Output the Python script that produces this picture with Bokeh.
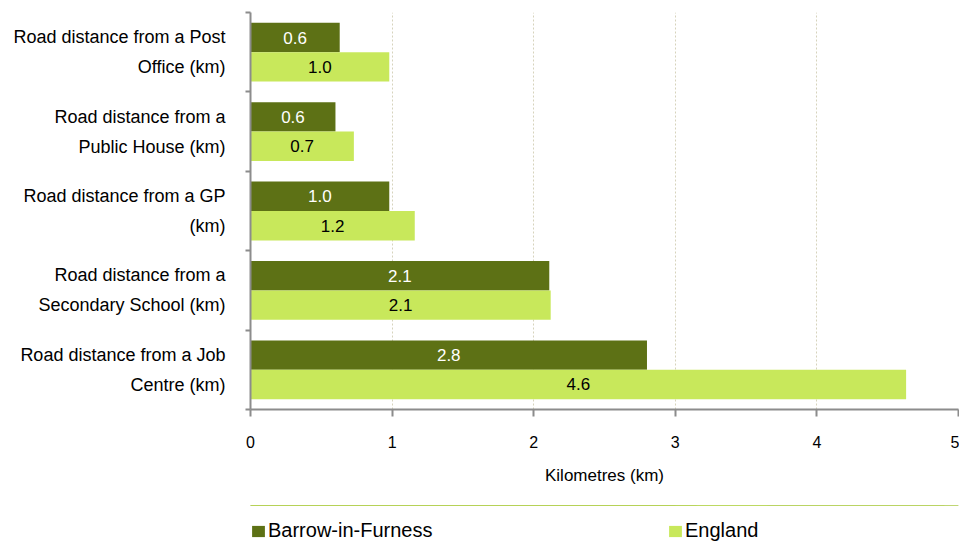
from bokeh.plotting import figure
from bokeh.layouts import column
from bokeh.models import (ColumnDataSource, Range1d, FixedTicker, Legend, LegendItem)
from bokeh.core.properties import value
from bokeh.embed import file_html
from bokeh.resources import INLINE

# ---- data ----
categories = [
    "Road distance from a Post\nOffice (km)",
    "Road distance from a\nPublic House (km)",
    "Road distance from a GP\n(km)",
    "Road distance from a\nSecondary School (km)",
    "Road distance from a Job\nCentre (km)",
]
barrow = [0.63, 0.60, 0.98, 2.11, 2.80]
england = [0.98, 0.73, 1.16, 2.12, 4.63]
series_names = ["Barrow-in-Furness", "England"]
x_ticks = [0, 1, 2, 3, 4, 5]
x_title = "Kilometres (km)"

DARK = "#5D7115"
LIGHT = "#C8E85B"
FONT = "Liberation Sans"
AXIS = "#8C8C8C"

n = len(categories)
bar_h = 0.37
off = bar_h / 2
centers = [n - i - 0.5 for i in range(n)]  # first category at the top

src = ColumnDataSource(dict(
    yc=centers,
    y_b=[c + off for c in centers],
    y_e=[c - off for c in centers],
    barrow=barrow,
    england=england,
    barrow_mid=[v / 2 for v in barrow],
    england_mid=[v / 2 for v in england],
    barrow_txt=[f"{v:.1f}" for v in barrow],
    england_txt=[f"{v:.1f}" for v in england],
))

p = figure(
    width=959, height=505,
    y_range=Range1d(0, n),
    x_range=Range1d(0, 5),
    output_backend="svg", toolbar_location=None,
    min_border_left=250, min_border_right=1, min_border_top=12, min_border_bottom=96,
)
p.outline_line_color = None
p.background_fill_color = "white"
p.border_fill_color = "white"

p.hbar(y="y_b", right="barrow", left=0, height=bar_h,
       source=src, fill_color=DARK, line_color=None)
p.hbar(y="y_e", right="england", left=0, height=bar_h,
       source=src, fill_color=LIGHT, line_color=None)

p.text(x="barrow_mid", y="y_b", text="barrow_txt", source=src,
       text_color="white", text_align="center", text_baseline="middle",
       text_font=value(FONT), text_font_size="17px")
p.text(x="england_mid", y="y_e", text="england_txt", source=src,
       text_color="black", text_align="center", text_baseline="middle",
       text_font=value(FONT), text_font_size="17px")

# grid
p.ygrid.visible = False
p.xgrid.grid_line_color = "#D6D3BC"
p.xgrid.grid_line_dash = "2 2"
p.xgrid.grid_line_width = 1
p.xgrid.ticker = FixedTicker(ticks=x_ticks)

# x axis
xa = p.xaxis[0]
xa.ticker = FixedTicker(ticks=x_ticks)
xa.axis_label = x_title
xa.axis_line_color = AXIS
xa.axis_line_width = 2
xa.major_tick_line_color = AXIS
xa.major_tick_line_width = 2
xa.major_tick_in = 0
xa.major_tick_out = 7
xa.minor_tick_line_color = None
xa.major_label_text_font = FONT
xa.major_label_text_font_size = "16px"
xa.major_label_text_color = "black"
xa.major_label_standoff = 19
xa.axis_label_text_font = FONT
xa.axis_label_text_font_size = "17px"
xa.axis_label_text_font_style = "normal"
xa.axis_label_text_color = "black"
xa.axis_label_standoff = 15

# y axis: category labels at centres, boundary ticks as minor ticks
ya = p.yaxis[0]
ya.ticker = FixedTicker(ticks=centers, minor_ticks=list(range(n + 1)))
ya.major_label_overrides = {c: lab for c, lab in zip(centers, categories)}
ya.major_label_text_font = FONT
ya.major_label_text_font_size = "18px"
ya.major_label_text_color = "black"
ya.major_label_text_line_height = 1.5
ya.major_label_standoff = 20
ya.major_tick_in = 0
ya.major_tick_out = 0
ya.major_tick_line_color = None
ya.minor_tick_in = 0
ya.minor_tick_out = 5
ya.minor_tick_line_color = AXIS
ya.minor_tick_line_width = 2
ya.axis_line_color = AXIS
ya.axis_line_width = 2

# ---- legend strip (separate small figure below the chart) ----
# the same bars are drawn here but fall outside this strip's ranges; they only key the legend
p2 = figure(width=959, height=37, x_range=Range1d(0, 1), y_range=Range1d(-2, -1),
            output_backend="svg", toolbar_location=None,
            x_axis_location=None, y_axis_location=None,
            min_border=0, min_border_left=0, min_border_right=0,
            min_border_top=0, min_border_bottom=0)
p2.outline_line_color = None
p2.outline_line_alpha = 0
p2.background_fill_color = "white"
p2.border_fill_color = "white"
p2.grid.visible = False
p2.axis.visible = False
k1 = p2.hbar(y="y_b", right="barrow", left=0, height=bar_h, source=src,
             fill_color=DARK, line_color=None)
k2 = p2.hbar(y="y_e", right="england", left=0, height=bar_h, source=src,
             fill_color=LIGHT, line_color=None)

legend_style = dict(orientation="horizontal", glyph_width=16, glyph_height=14,
                    label_standoff=2, padding=0, margin=0, border_line_color=None,
                    background_fill_alpha=0, label_text_font=FONT,
                    label_text_font_size="20px", label_text_color="black")
p2.add_layout(Legend(items=[LegendItem(label=series_names[0], renderers=[k1])],
                     location=(0, 0), **legend_style), "center")
p2.add_layout(Legend(items=[LegendItem(label=series_names[1], renderers=[k2])],
                     location=(417, 0), **legend_style), "center")

open("out.html", "w").write(file_html(column(p, p2, spacing=0), INLINE))
